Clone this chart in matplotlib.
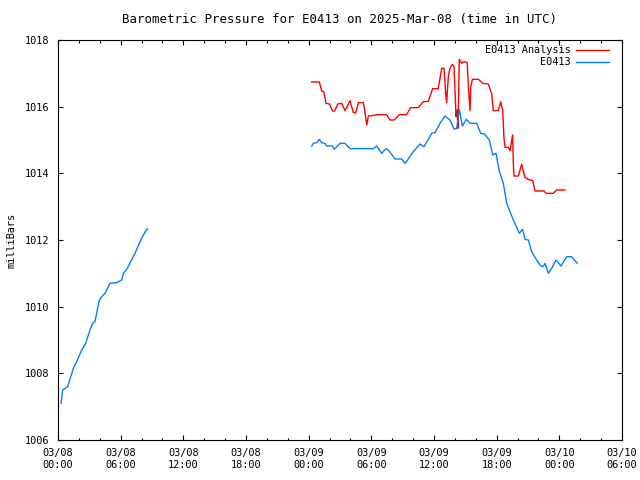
import datetime as dt
import numpy as np
import matplotlib
matplotlib.use('Agg')
import matplotlib.pyplot as plt
import matplotlib.dates as mdates

# hours since 2025-03-08 00:00 UTC
obs_hours = [0.29, 0.45, 0.93, 1.47, 1.79, 2.27, 2.65, 3.06, 3.32, 3.54, 3.96, 4.18, 4.5,
             4.98, 5.62, 6.1, 6.26, 6.58, 7.37, 8.0, 8.49, 8.6,
             None,
             24.29, 24.45, 24.77, 25.02, 25.25, 25.56, 25.72, 26.27, 26.46, 27.0, 27.48, 27.96,
             30.19, 30.51, 30.99, 31.4, 31.63, 32.27, 32.9, 33.25, 34.02, 34.66, 35.04, 35.78,
             36.1, 36.58, 37.05, 37.53, 37.94, 38.17, 38.42, 38.71, 39.1, 39.45, 40.09, 40.47,
             40.82, 41.3, 41.62, 41.94, 42.26, 42.64, 42.96, 43.6, 44.17, 44.49, 44.71, 45.03,
             45.35, 45.83, 46.22, 46.46, 46.63, 46.95, 47.27, 47.68, 48.16, 48.71, 49.18, 49.72]
obs_mb = [1007.1, 1007.5, 1007.6, 1008.15, 1008.35, 1008.7, 1008.9, 1009.3, 1009.5, 1009.55,
          1010.2, 1010.3, 1010.4, 1010.7, 1010.72, 1010.8, 1011.0, 1011.12, 1011.6, 1012.05,
          1012.32, 1012.33,
          None,
          1014.82, 1014.9, 1014.92, 1015.02, 1014.92, 1014.9, 1014.82, 1014.82, 1014.72, 1014.9,
          1014.9, 1014.74, 1014.74, 1014.82, 1014.6, 1014.74, 1014.7, 1014.43, 1014.43, 1014.3,
          1014.65, 1014.88, 1014.8, 1015.2, 1015.22, 1015.5, 1015.72, 1015.6, 1015.32, 1015.35,
          1015.92, 1015.42, 1015.62, 1015.5, 1015.5, 1015.2, 1015.18, 1015.0, 1014.55, 1014.6,
          1014.05, 1013.7, 1013.1, 1012.6, 1012.2, 1012.32, 1012.02, 1012.0, 1011.65, 1011.4,
          1011.22, 1011.2, 1011.3, 1011.0, 1011.15, 1011.4, 1011.22, 1011.5, 1011.5, 1011.3]

ana_hours = [24.29, 25.02, 25.25, 25.45, 25.66, 25.98, 26.3, 26.5, 26.78, 27.16, 27.48, 27.96,
             28.28, 28.5, 28.76, 29.24, 29.4, 29.56, 29.72, 30.67, 31.47, 31.79, 32.2, 32.68,
             33.38, 33.76, 34.5, 34.98, 35.46, 35.87, 36.4, 36.74, 36.96, 37.12, 37.21, 37.37,
             37.53, 37.75, 37.92, 38.11, 38.2, 38.3, 38.42, 38.65, 38.87, 39.18, 39.29, 39.45,
             39.52, 39.68, 40.25, 40.67, 41.2, 41.52, 41.68, 42.16, 42.39, 42.58, 42.7, 42.8,
             43.12, 43.28, 43.44, 43.53, 43.6, 43.66, 44.08, 44.39, 44.71, 45.03, 45.45, 45.67,
             46.53, 46.72, 47.42, 47.74, 48.54]
ana_mb = [1016.74, 1016.74, 1016.47, 1016.45, 1016.1, 1016.08, 1015.87, 1015.87, 1016.08,
          1016.1, 1015.88, 1016.18, 1015.82, 1015.82, 1016.12, 1016.12, 1015.8, 1015.45, 1015.72,
          1015.76, 1015.76, 1015.6, 1015.6, 1015.76, 1015.76, 1015.97, 1015.97, 1016.15, 1016.16,
          1016.54, 1016.54, 1017.15, 1017.15, 1016.4, 1016.12, 1016.9, 1017.15, 1017.27, 1017.2,
          1015.7, 1015.9, 1015.35, 1017.42, 1017.3, 1017.35, 1017.32, 1016.6, 1015.88, 1016.6,
          1016.82, 1016.82, 1016.7, 1016.68, 1016.4, 1015.88, 1015.88, 1016.15, 1015.88, 1015.05,
          1014.78, 1014.78, 1014.68, 1015.0, 1015.15, 1014.25, 1013.92, 1013.92, 1014.27, 1013.88,
          1013.82, 1013.78, 1013.47, 1013.47, 1013.4, 1013.4, 1013.5, 1013.5]

start = dt.datetime(2025, 3, 8, 0, 0)


def to_times(hours):
    return [start + dt.timedelta(hours=h) if h is not None else None for h in hours]


# gap in the observations -> NaN breaks the line
obs_t = [t if t is not None else start + dt.timedelta(hours=16) for t in to_times(obs_hours)]
obs_v = np.array([v if v is not None else np.nan for v in obs_mb], dtype=float)
ana_t = to_times(ana_hours)

plt.rcParams['font.family'] = 'DejaVu Sans Mono'
plt.rcParams['font.size'] = 7.4

fig = plt.figure(figsize=(6.4, 4.8), dpi=100)
ax = fig.add_axes([58 / 640, 40 / 480, 564 / 640, 400 / 480])

ax.plot(ana_t, ana_mb, color='#ff0000', lw=1, label='E0413 Analysis')
ax.plot(obs_t, obs_v, color='#0080ff', lw=1, label='E0413')

ax.set_xlim(start, start + dt.timedelta(hours=54))
ax.set_ylim(1006, 1018)
ax.set_yticks(np.arange(1006, 1019, 2))
ax.xaxis.set_major_locator(mdates.HourLocator(byhour=[0, 6, 12, 18]))
ax.xaxis.set_minor_locator(mdates.HourLocator(interval=2))
ax.xaxis.set_major_formatter(mdates.DateFormatter('%m/%d\n%H:%M'))

ax.tick_params(which='both', direction='in', top=True, right=True, width=0.8)
ax.tick_params(which='major', length=3.5, pad=6)
ax.tick_params(which='minor', length=1.8)
for s in ax.spines.values():
    s.set_linewidth(0.8)

ax.set_title('Barometric Pressure for E0413 on 2025-Mar-08 (time in UTC)', pad=12)
ax.set_ylabel('milliBars', labelpad=6)

ax.legend(loc='upper right', bbox_to_anchor=(1 - 3 / 564, 1 + 5 / 400), frameon=False,
          markerfirst=False, handlelength=3.2, handletextpad=0.5, labelspacing=0.2,
          borderaxespad=0.6)

fig.savefig('out.png', dpi=100)
